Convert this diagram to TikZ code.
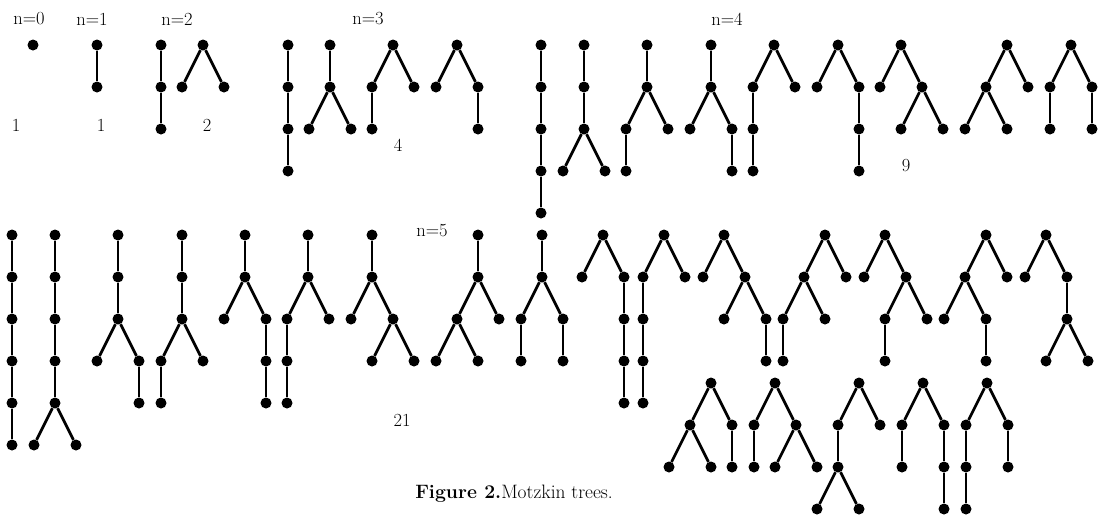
\documentclass[tikz,border=0pt]{standalone}
\usetikzlibrary{trees}
\begin{document}
\begin{tikzpicture}[x=1pt,y=-1pt,
  dot/.style={circle,fill=black,inner sep=0pt,minimum size=11pt},
  lbl/.style={font=\fontsize{18.5}{20}\selectfont,inner sep=0pt},
  level distance=42pt, sibling distance=42pt,
  edge from parent/.style={draw,line width=2.7pt},
  grow=down]
\useasboundingbox (0,0) rectangle (1120,515);

% ---- counts and headings
\node[lbl] (h0) at (29,19) {n=0};
\node[lbl] (h1) at (92,19) {n=1};
\node[lbl] (h2) at (177,19) {n=2};
\node[lbl] (h3) at (368,19) {n=3};
\node[lbl] (h4) at (727,19) {n=4};
\node[lbl] (h5) at (432,231) {n=5};
\node[lbl] (c0) at (16,125) {1};
\node[lbl] (c1) at (101,125) {1};
\node[lbl] (c2) at (207,125) {2};
\node[lbl] (c3) at (398,145) {4};
\node[lbl] (c4) at (906,166) {9};
\node[lbl] (c5) at (402,420) {21};
\node[lbl,font=\fontsize{19.4}{21}\selectfont] (cap) at (514,494) {\textbf{Figure 2.}Motzkin trees.};

% ---- n = 0, 1, 2
\node[dot] (A) at (33,45) {};
\node[dot] (B) at (97,45) {} child {node[dot] {}};
\node[dot] (Ca) at (161,45) {} child {node[dot] {} child {node[dot] {}}};
\node[dot] (Cb) at (203,45) {} child {node[dot] {}} child {node[dot] {}};

% ---- n = 3
\node[dot] (Da) at (288,45) {} child {node[dot] {} child {node[dot] {} child {node[dot] {}}}};
\node[dot] (Db) at (330,45) {} child {node[dot] {} child {node[dot] {}} child {node[dot] {}}};
\node[dot] (Dc) at (393,45) {} child {node[dot] {} child {node[dot] {}}} child {node[dot] {}};
\node[dot] (Dd) at (457,45) {} child {node[dot] {}} child {node[dot] {} child {node[dot] {}}};

% ---- n = 4
\node[dot] (Ea) at (541,45) {} child {node[dot] {} child {node[dot] {} child {node[dot] {} child {node[dot] {}}}}};
\node[dot] (Eb) at (584,45) {} child {node[dot] {} child {node[dot] {} child {node[dot] {}} child {node[dot] {}}}};
\node[dot] (Ec) at (647,45) {} child {node[dot] {} child {node[dot] {} child {node[dot] {}}} child {node[dot] {}}};
\node[dot] (Ed) at (711,45) {} child {node[dot] {} child {node[dot] {}} child {node[dot] {} child {node[dot] {}}}};
\node[dot] (Ee) at (774,45) {} child {node[dot] {} child {node[dot] {} child {node[dot] {}}}} child {node[dot] {}};
\node[dot] (Ef) at (838,45) {} child {node[dot] {}} child {node[dot] {} child {node[dot] {} child {node[dot] {}}}};
\node[dot] (Eg) at (901,45) {} child {node[dot] {}} child {node[dot] {} child {node[dot] {}} child {node[dot] {}}};
\node[dot] (Eh) at (1007,45) {} child {node[dot] {} child {node[dot] {}} child {node[dot] {}}} child {node[dot] {}};
\node[dot] (Ei) at (1071,45) {} child {node[dot] {} child {node[dot] {}}} child {node[dot] {} child {node[dot] {}}};

% ---- n = 5, first row
\node[dot] (F1) at (12,235) {} child {node[dot] {} child {node[dot] {} child {node[dot] {} child {node[dot] {} child {node[dot] {}}}}}};
\node[dot] (F2) at (55,235) {} child {node[dot] {} child {node[dot] {} child {node[dot] {} child {node[dot] {} child {node[dot] {}} child {node[dot] {}}}}}};
\node[dot] (F3) at (118,235) {} child {node[dot] {} child {node[dot] {} child {node[dot] {}} child {node[dot] {} child {node[dot] {}}}}};
\node[dot] (F4) at (182,235) {} child {node[dot] {} child {node[dot] {} child {node[dot] {} child {node[dot] {}}} child {node[dot] {}}}};
\node[dot] (F5) at (245,235) {} child {node[dot] {} child {node[dot] {}} child {node[dot] {} child {node[dot] {} child {node[dot] {}}}}};
\node[dot] (F6) at (308,235) {} child {node[dot] {} child {node[dot] {} child {node[dot] {} child {node[dot] {}}}} child {node[dot] {}}};
\node[dot] (F7) at (372,235) {} child {node[dot] {} child {node[dot] {}} child {node[dot] {} child {node[dot] {}} child {node[dot] {}}}};
\node[dot] (F8) at (478,235) {} child {node[dot] {} child {node[dot] {} child {node[dot] {}} child {node[dot] {}}} child {node[dot] {}}};
\node[dot] (F9) at (542,235) {} child {node[dot] {} child {node[dot] {} child {node[dot] {}}} child {node[dot] {} child {node[dot] {}}}};
\node[dot] (F10) at (603,235) {} child {node[dot] {}} child {node[dot] {} child {node[dot] {} child {node[dot] {} child {node[dot] {}}}}};
\node[dot] (F11) at (664,235) {} child {node[dot] {} child {node[dot] {} child {node[dot] {} child {node[dot] {}}}}} child {node[dot] {}};
\node[dot] (F12) at (724,235) {} child {node[dot] {}} child {node[dot] {} child {node[dot] {}} child {node[dot] {} child {node[dot] {}}}};
\node[dot] (F13) at (825,235) {} child {node[dot] {} child {node[dot] {} child {node[dot] {}}} child {node[dot] {}}} child {node[dot] {}};
\node[dot] (F14) at (885,235) {} child {node[dot] {}} child {node[dot] {} child {node[dot] {} child {node[dot] {}}} child {node[dot] {}}};
\node[dot] (F15) at (986,235) {} child {node[dot] {} child {node[dot] {}} child {node[dot] {} child {node[dot] {}}}} child {node[dot] {}};
\node[dot] (F16) at (1046,235) {} child {node[dot] {}} child {node[dot] {} child {node[dot] {} child {node[dot] {}} child {node[dot] {}}}};

% ---- n = 5, second row
\node[dot] (G1) at (711,383) {} child {node[dot] {} child {node[dot] {}} child {node[dot] {}}} child {node[dot] {} child {node[dot] {}}};
\node[dot] (G2) at (775,383) {} child {node[dot] {} child {node[dot] {}}} child {node[dot] {} child {node[dot] {}} child {node[dot] {}}};
\node[dot] (G3) at (859,383) {} child {node[dot] {} child {node[dot] {} child {node[dot] {}} child {node[dot] {}}}} child {node[dot] {}};
\node[dot] (G4) at (923,383) {} child {node[dot] {} child {node[dot] {}}} child {node[dot] {} child {node[dot] {} child {node[dot] {}}}};
\node[dot] (G5) at (987,383) {} child {node[dot] {} child {node[dot] {} child {node[dot] {}}}} child {node[dot] {} child {node[dot] {}}};
\end{tikzpicture}
\end{document}
